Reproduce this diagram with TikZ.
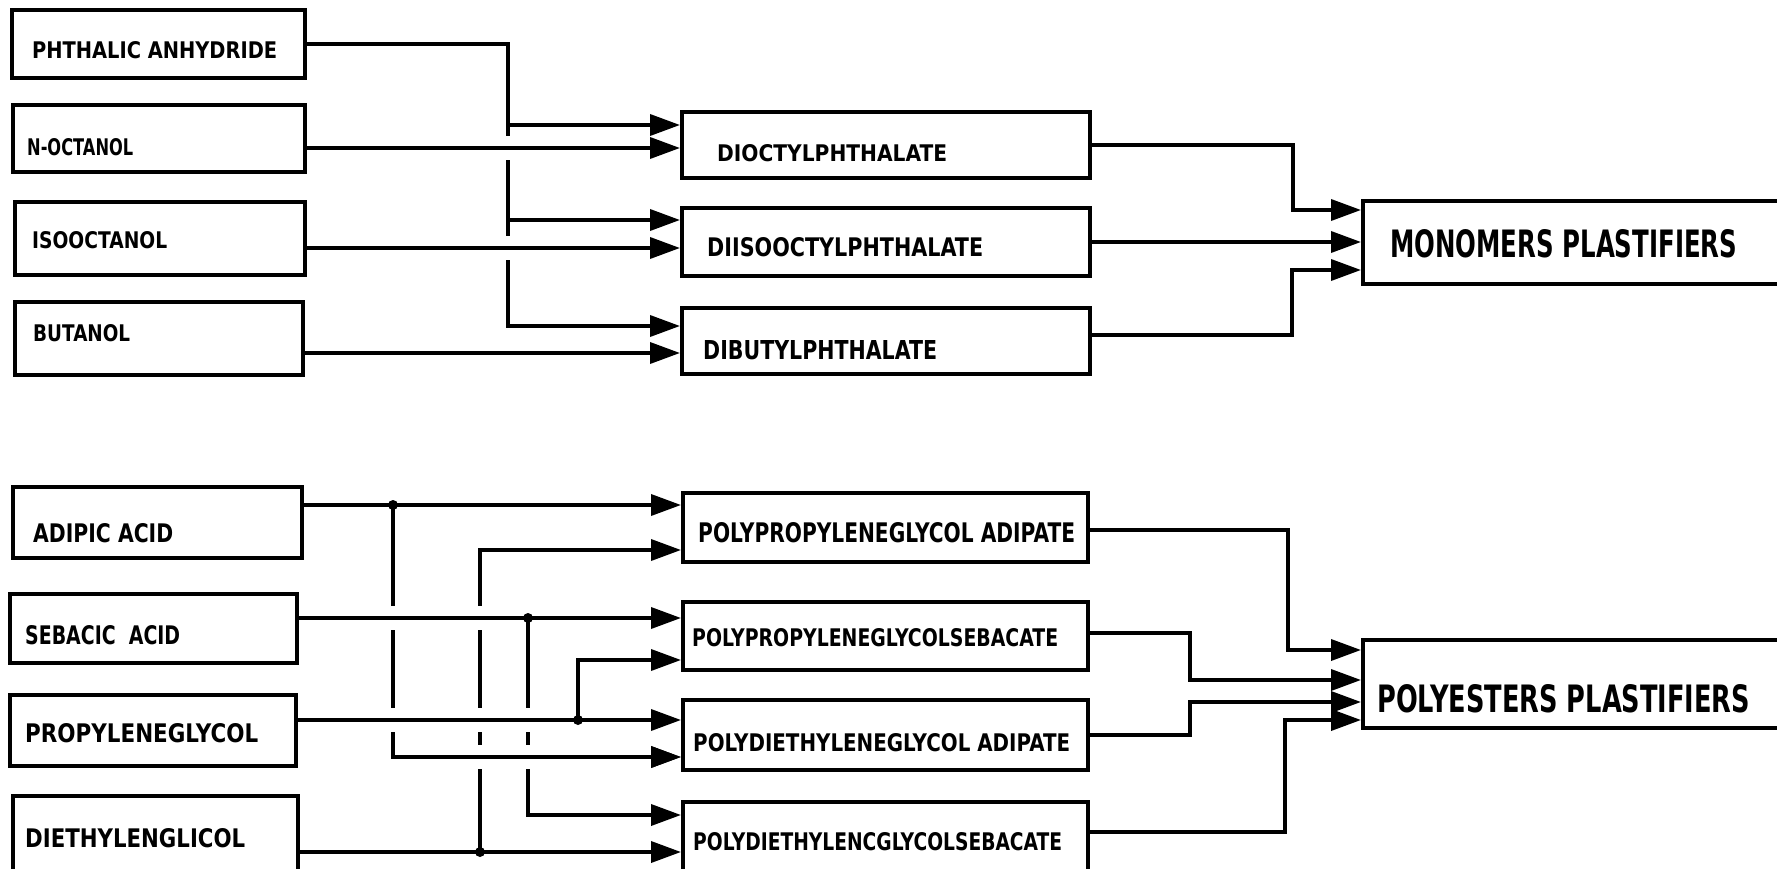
\documentclass[tikz,border=0pt]{standalone}
\usepackage{fontspec}
\usepackage{graphicx}
\setmainfont{DejaVu Sans}
\usetikzlibrary{arrows.meta}
\newcommand\lab[3]{\resizebox{#1}{#2}{\bfseries #3}}
\tikzset{
  blk/.style={draw=black, line width=4pt, inner sep=0pt},
  lbl/.style={inner sep=0pt, anchor=west},
  conn/.style={draw=black, line width=3.6pt},
  arrw/.style={conn, -{Triangle[length=30pt,width=21pt]}},
  jdot/.style={fill=black},
  gapn/.style={fill=white, draw=none, minimum width=12pt, minimum height=24pt, inner sep=0pt}
}
\begin{document}
\begin{tikzpicture}[x=1pt,y=-1pt]
\useasboundingbox (0,0) rectangle (1777,869);
\clip (0,0) rectangle (1777,869);
% ---------- top section: boxes ----------
\node[blk, minimum width=293pt, minimum height=68pt] (pa) at (158.5,44) {};
\node[blk, minimum width=292pt, minimum height=67pt] (no) at (159,138.5) {};
\node[blk, minimum width=290pt, minimum height=73pt] (io) at (160,238.5) {};
\node[blk, minimum width=288pt, minimum height=73pt] (bu) at (159,338.5) {};
\node[lbl] (pat) at (32,50) {\lab{245pt}{17pt}{PHTHALIC ANHYDRIDE}};
\node[lbl] (not) at (27,147) {\lab{106pt}{17pt}{N-OCTANOL}};
\node[lbl] (iot) at (32,240) {\lab{135pt}{17pt}{ISOOCTANOL}};
\node[lbl] (but) at (33,333) {\lab{97pt}{17pt}{BUTANOL}};

\node[blk, minimum width=408pt, minimum height=66pt] (do) at (886,145) {};
\node[blk, minimum width=408pt, minimum height=68pt] (di) at (886,242) {};
\node[blk, minimum width=408pt, minimum height=66pt] (db) at (886,341) {};
\node[lbl] (dot) at (717,153) {\lab{230pt}{17pt}{DIOCTYLPHTHALATE}};
\node[lbl] (dit) at (707,247) {\lab{276pt}{19pt}{DIISOOCTYLPHTHALATE}};
\node[lbl] (dbt) at (703,350) {\lab{234pt}{19pt}{DIBUTYLPHTHALATE}};

\node[blk, minimum width=467pt, minimum height=83pt] (mono) at (1596.5,242.5) {};
\node[lbl] (monot) at (1390,244) {\lab{347pt}{28pt}{MONOMERS PLASTIFIERS}};

% ---------- top section: connectors ----------
\coordinate (tb) at (508,326);
\coordinate (tb1) at (508,125);
\coordinate (tb2) at (508,220);
\coordinate (noo) at ([yshift=-9.5pt]no.east);
\coordinate (ioo) at ([yshift=-9.5pt]io.east);
\coordinate (buo) at ([yshift=-14.5pt]bu.east);
\draw[arrw] (pa.east) -| (tb) -- (tb -| db.west);
\node[gapn] (g1) at (tb |- noo) {};
\node[gapn] (g2) at (tb |- ioo) {};
\draw[arrw] (tb1) -- (tb1 -| do.west);
\draw[arrw] (tb2) -- (tb2 -| di.west);
\draw[arrw] (noo) -- (noo -| do.west);
\draw[arrw] (ioo) -- (ioo -| di.west);
\draw[arrw] (buo) -- (buo -| db.west);

\coordinate (tr1) at (1293,210);
\coordinate (tr3) at (1292,270);
\coordinate (dbo) at ([yshift=6pt]db.east);
\draw[arrw] (do.east) -| (tr1) -- (tr1 -| mono.west);
\draw[arrw] (di.east) -- (di.east -| mono.west);
\draw[arrw] (dbo) -| (tr3) -- (tr3 -| mono.west);

% ---------- bottom section: boxes ----------
\node[blk, minimum width=289pt, minimum height=71pt] (aa) at (157.5,522.5) {};
\node[blk, minimum width=287pt, minimum height=69pt] (sa) at (153.5,628.5) {};
\node[blk, minimum width=286pt, minimum height=71pt] (pg) at (153,730.5) {};
\node[blk, minimum width=285pt, minimum height=76pt] (dg) at (155.5,834) {};
\node[lbl] (aat) at (33,533) {\lab{140pt}{19pt}{ADIPIC ACID}};
\node[lbl] (sat) at (25,635) {\lab{155pt}{19pt}{SEBACIC\ \ ACID}};
\node[lbl] (pgt) at (25,733) {\lab{233pt}{19pt}{PROPYLENEGLYCOL}};
\node[lbl] (dgt) at (25,838) {\lab{220pt}{19pt}{DIETHYLENGLICOL}};

\node[blk, minimum width=405pt, minimum height=69pt] (ppa) at (885.5,527.5) {};
\node[blk, minimum width=405pt, minimum height=68pt] (pps) at (885.5,636) {};
\node[blk, minimum width=405pt, minimum height=70pt] (pda) at (885.5,735) {};
\node[blk, minimum width=405pt, minimum height=70pt] (pds) at (885.5,837) {};
\node[lbl] (ppat) at (698,533) {\lab{377pt}{20pt}{POLYPROPYLENEGLYCOL ADIPATE}};
\node[lbl] (ppst) at (692,638) {\lab{366pt}{18pt}{POLYPROPYLENEGLYCOLSEBACATE}};
\node[lbl] (pdat) at (693,743) {\lab{377pt}{18pt}{POLYDIETHYLENEGLYCOL ADIPATE}};
\node[lbl] (pdst) at (693,842) {\lab{369pt}{18pt}{POLYDIETHYLENCGLYCOLSEBACATE}};

\node[blk, minimum width=467pt, minimum height=88pt] (poly) at (1596.5,684) {};
\node[lbl] (polyt) at (1377,699) {\lab{373pt}{28pt}{POLYESTERS PLASTIFIERS}};

% ---------- bottom section: connectors ----------
\coordinate (aao) at ([yshift=17.5pt]aa.east);
\coordinate (sao) at ([yshift=10.5pt]sa.east);
\coordinate (pgo) at ([yshift=10.5pt]pg.east);
\coordinate (dgo) at ([yshift=-18pt]dg.east);
\coordinate (ja) at (393,505);
\coordinate (jab) at (393,757);
\coordinate (js) at (528,618);
\coordinate (jsb) at (528,815);
\coordinate (jp) at (578,720);
\coordinate (jpb) at (578,660);
\coordinate (jd) at (480,852);
\coordinate (jdb) at (480,550);

\draw[arrw] (ja) -- (jab) -- (jab -| pda.west);
\draw[arrw] (js) -- (jsb) -- (jsb -| pds.west);
\draw[arrw] (jp) -- (jpb) -- (jpb -| pps.west);
\draw[arrw] (jd) -- (jdb) -- (jdb -| ppa.west);

\node[gapn] (g3) at (ja |- sao) {};
\node[gapn] (g4) at (ja |- pgo) {};
\node[gapn] (g5) at (jd |- sao) {};
\node[gapn] (g6) at (jd |- pgo) {};
\node[gapn] (g7) at (jd |- jab) {};
\node[gapn] (g8) at (js |- pgo) {};
\node[gapn] (g9) at (js |- jab) {};

% horizontal runs drawn over the gaps
\draw[arrw] (jab) -- (jab -| pda.west);
\draw[arrw] (aao) -- (aao -| ppa.west);
\draw[arrw] (sao) -- (sao -| pps.west);
\draw[arrw] (pgo) -- (pgo -| pda.west);
\draw[arrw] (dgo) -- (dgo -| pds.west);

\fill[jdot] (ja) circle (5pt);
\fill[jdot] (js) circle (5pt);
\fill[jdot] (jp) circle (5pt);
\fill[jdot] (jd) circle (5pt);

\coordinate (br1) at (1288,650);
\coordinate (br2) at (1190,680);
\coordinate (br3) at (1190,702);
\coordinate (br4) at (1285,720);
\coordinate (ppao) at ([yshift=-2.5pt]ppa.east);
\coordinate (ppso) at ([yshift=3pt]pps.east);
\coordinate (pdso) at ([yshift=5pt]pds.east);
\draw[arrw] (ppao) -| (br1) -- (br1 -| poly.west);
\draw[arrw] (ppso) -| (br2) -- (br2 -| poly.west);
\draw[arrw] (pda.east) -| (br3) -- (br3 -| poly.west);
\draw[arrw] (pdso) -| (br4) -- (br4 -| poly.west);
\end{tikzpicture}
\end{document}
